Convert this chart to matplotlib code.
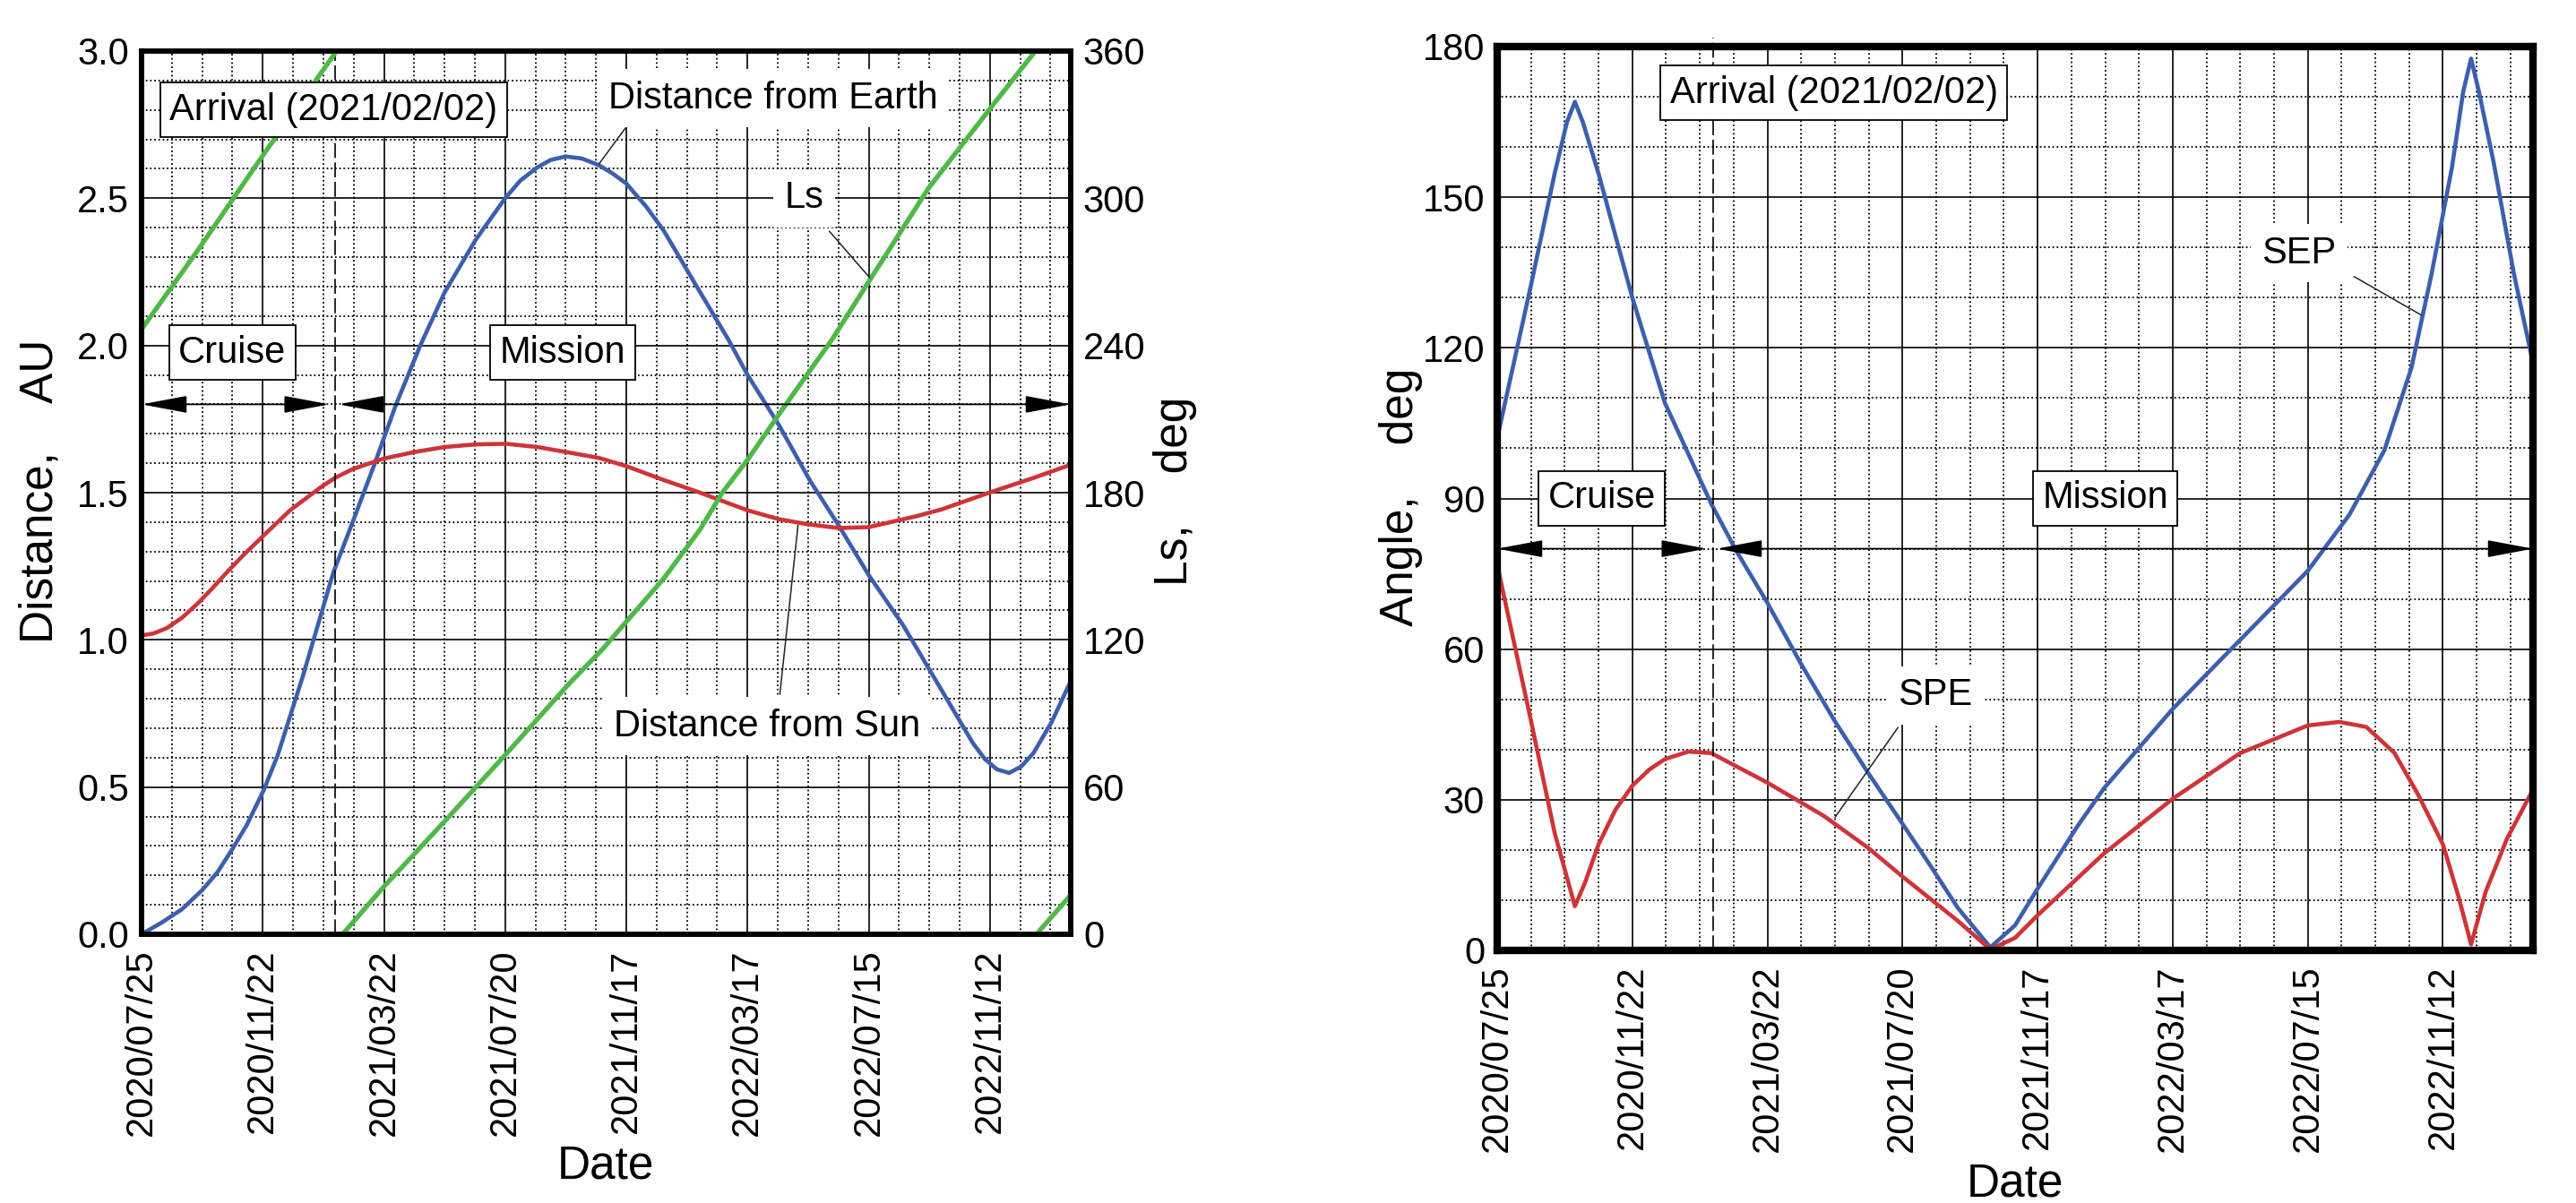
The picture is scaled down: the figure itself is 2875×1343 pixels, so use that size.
import matplotlib
matplotlib.use("Agg")
import matplotlib.pyplot as plt
from matplotlib.ticker import FixedLocator, MultipleLocator, FormatStrFormatter

plt.rcParams['font.family'] = ['Liberation Sans', 'DejaVu Sans']

# x is counted in days from 2020/07/25
date_ticks = [0, 120, 240, 360, 480, 600, 720, 840]
date_labels = ['2020/07/25', '2020/11/22', '2021/03/22', '2021/07/20',
               '2021/11/17', '2022/03/17', '2022/07/15', '2022/11/12']
end_day = 920
arrival_day = 192

# distance from Earth, AU
earth_day = [0, 20, 40, 60, 75, 90, 104, 121, 135, 147, 160, 172, 190, 209, 220, 231, 252,
             276, 300, 331, 360, 375, 392, 405, 420, 436, 453, 466, 480, 500, 517, 548,
             581, 600, 631, 662, 690, 720, 754, 792, 823, 835, 847, 859, 871, 883, 901, 920]
earth_au = [0.0, 0.04, 0.085, 0.15, 0.21, 0.29, 0.37, 0.49, 0.61, 0.74, 0.88, 1.02, 1.23,
            1.40, 1.50, 1.60, 1.80, 2.00, 2.18, 2.36, 2.50, 2.56, 2.605, 2.63, 2.642,
            2.635, 2.612, 2.585, 2.55, 2.47, 2.39, 2.21, 2.02, 1.90, 1.73, 1.54, 1.39,
            1.22, 1.05, 0.83, 0.65, 0.595, 0.56, 0.548, 0.57, 0.615, 0.72, 0.86]

# distance from Sun, AU
sun_day = [0, 12, 25, 40, 56, 70, 86, 100, 121, 147, 178, 192, 209, 239, 270, 300, 331,
           361, 392, 422, 453, 480, 517, 553, 600, 631, 659, 690, 720, 766, 792, 841,
           883, 920]
sun_au = [1.015, 1.022, 1.04, 1.075, 1.125, 1.175, 1.235, 1.285, 1.355, 1.44, 1.52, 1.551,
          1.58, 1.615, 1.638, 1.655, 1.664, 1.666, 1.655, 1.637, 1.618, 1.59, 1.543,
          1.50, 1.44, 1.41, 1.393, 1.38, 1.383, 1.419, 1.443, 1.502, 1.55, 1.595]

# solar longitude Ls, deg (wraps at 360)
ls_day_1 = [0, 56, 121, 193]
ls_deg_1 = [246.6, 279, 318, 360]
ls_day_2 = [199, 239, 300, 361, 423, 456, 517, 553, 575, 600, 638, 683, 720, 779, 841, 885]
ls_deg_2 = [0, 19, 46, 73.5, 102, 116, 145, 165, 180, 193.4, 216, 242, 266, 304, 337, 360]
ls_day_3 = [886, 920]
ls_deg_3 = [0, 16]

# Sun-Earth-Probe angle, deg
sep_day = [0, 30, 51, 62, 69, 76, 90, 120, 149, 190, 212, 240, 270, 300, 329, 360, 385,
           409, 438, 460, 480, 515, 539, 600, 651, 720, 757, 788, 812, 830, 848, 858, 865,
           872, 885, 903, 920]
sep_deg = [102, 132.5, 154.7, 165, 169, 165, 154.7, 130, 109, 89, 79.7, 69.2, 57, 45.6,
           35.5, 25.2, 16.8, 8.5, 0.6, 5, 12.3, 24.6, 32.3, 48.1, 59.8, 75.6, 86.8, 99.6,
           116, 134.8, 155.9, 171, 177.6, 171, 157, 134.8, 117]

# Sun-Probe-Earth angle, deg
spe_day = [0, 30, 51, 69, 78, 90, 105, 120, 135, 149, 170, 190, 240, 290, 329, 360, 409,
           438, 460, 480, 539, 600, 660, 720, 748, 772, 797, 818, 840, 854, 865, 878, 897,
           920]
spe_deg = [76.8, 45.7, 23.4, 8.8, 13.5, 21.1, 28, 32.8, 36, 38.1, 39.6, 39.3, 33.4, 26.8,
           20.5, 14.7, 5.9, 0.2, 2.5, 7.0, 19.3, 30.2, 39.3, 44.8, 45.5, 44.5, 39.3, 31,
           21.1, 10.6, 1.2, 11.7, 22.3, 32]

BLUE = '#3c5fae'
RED = '#cf3437'
GREEN = '#50b848'
W, H = 2875, 1343


def setup(ax, ymax, major, minor, frame_lw):
    ax.set_xlim(0, end_day)
    ax.set_ylim(0, ymax)
    ax.xaxis.set_major_locator(FixedLocator(date_ticks))
    ax.set_xticklabels(date_labels, rotation=90)
    ax.xaxis.set_minor_locator(MultipleLocator(30))
    ax.yaxis.set_major_locator(MultipleLocator(major))
    ax.yaxis.set_minor_locator(MultipleLocator(minor))
    ax.grid(which='major', color='black', lw=1.2)
    ax.grid(which='minor', color='black', lw=1.3, ls=(0, (1, 1.6)))
    ax.set_axisbelow(True)
    ax.tick_params(which='both', length=0, labelsize=30)
    ax.tick_params(axis='x', pad=12)
    ax.tick_params(axis='y', pad=10)
    for s in ax.spines.values():
        s.set_linewidth(frame_lw)


def boxed(ax, x, y, s, trans):
    ax.text(x, y, s, transform=trans, fontsize=30, ha='center', va='center', zorder=6,
            bbox=dict(boxstyle='square,pad=0.25', fc='white', ec='black', lw=1.3))


def label(ax, x, y, s, trans):
    ax.text(x, y, s, transform=trans, fontsize=30, ha='center', va='center', zorder=6,
            bbox=dict(boxstyle='square,pad=0.3', fc='white', ec='none'))


def leader(ax, start, end, trans):
    ax.annotate('', xy=end, xytext=start, xycoords=trans, textcoords=trans, zorder=6,
                arrowprops=dict(arrowstyle='-', color='#222222', lw=1.1,
                                shrinkA=0, shrinkB=0))


def phases(ax, y, trans):
    style = dict(arrowstyle='<|-|>,head_length=1.6,head_width=0.3', mutation_scale=20,
                 color='black', lw=1.3, shrinkA=0, shrinkB=0)
    ax.annotate('', xy=(arrival_day - 6, y), xytext=(0, y), xycoords=trans,
                textcoords=trans, arrowprops=style, zorder=5)
    ax.annotate('', xy=(end_day, y), xytext=(arrival_day + 3, y), xycoords=trans,
                textcoords=trans, arrowprops=style, zorder=5)


fig = plt.figure(figsize=(W / 100, H / 100), dpi=100)

# ---- left: distances and Ls ----
ax1 = fig.add_axes([158 / W, 1 - 1043 / H, (1195 - 158) / W, (1043 - 57) / H])
setup(ax1, 3.0, 0.5, 0.1, 4)
ax1.yaxis.set_major_formatter(FormatStrFormatter('%.1f'))
ax1.plot(earth_day, earth_au, color=BLUE, lw=3.3, solid_joinstyle='round')
ax1.plot(sun_day, sun_au, color=RED, lw=3.3, solid_joinstyle='round')
ax1.axvline(arrival_day, color='black', lw=1.2, ls=(0, (10, 3)))

ax_ls = ax1.twinx()
ax_ls.set_ylim(0, 360)
ax_ls.yaxis.set_major_locator(MultipleLocator(60))
ax_ls.tick_params(length=0, labelsize=30, pad=10)
for s in ax_ls.spines.values():
    s.set_linewidth(4)
for d, v in [(ls_day_1, ls_deg_1), (ls_day_2, ls_deg_2), (ls_day_3, ls_deg_3)]:
    ax_ls.plot(d, v, color=GREEN, lw=3.8, solid_joinstyle='round')

t1 = ax1.transData
phases(ax_ls, 1.8, t1)
boxed(ax_ls, 190, 2.80, 'Arrival (2021/02/02)', t1)
boxed(ax_ls, 90, 1.975, 'Cruise', t1)
boxed(ax_ls, 417, 1.975, 'Mission', t1)
label(ax_ls, 625, 2.84, 'Distance from Earth', t1)
leader(ax_ls, (479, 2.738), (453, 2.617), t1)
label(ax_ls, 656, 2.50, 'Ls', t1)
leader(ax_ls, (681, 2.388), (721, 2.23), t1)
label(ax_ls, 619, 0.706, 'Distance from Sun', t1)
leader(ax_ls, (632, 0.815), (650, 1.39), t1)

fig.text(45 / W, 1 - 548 / H, 'Distance,    AU', rotation=90, fontsize=37,
         ha='center', va='center')
fig.text(1312 / W, 1 - 548 / H, 'Ls,    deg', rotation=90, fontsize=37,
         ha='center', va='center')
fig.text(676 / W, 1 - 1302 / H, 'Date', fontsize=37, ha='center', va='center')

# ---- right: angles ----
ax2 = fig.add_axes([1671 / W, 1 - 1061 / H, (2827 - 1671) / W, (1061 - 52) / H])
setup(ax2, 180, 30, 10, 6)
ax2.plot(sep_day, sep_deg, color=BLUE, lw=3.3, solid_joinstyle='round')
ax2.plot(spe_day, spe_deg, color=RED, lw=3.3, solid_joinstyle='round')
ax2.axvline(arrival_day, ymax=1.01, color='black', lw=1.2, ls=(0, (10, 3)), clip_on=False)

t2 = ax2.transData
phases(ax2, 80, t2)
boxed(ax2, 299, 170.8, 'Arrival (2021/02/02)', t2)
boxed(ax2, 93, 90, 'Cruise', t2)
boxed(ax2, 540, 90, 'Mission', t2)
label(ax2, 712, 138.8, 'SEP', t2)
leader(ax2, (761, 134.2), (821, 126.5), t2)
label(ax2, 389, 50.8, 'SPE', t2)
leader(ax2, (356, 44.4), (300, 26.5), t2)

fig.text(1564 / W, 1 - 555 / H, 'Angle,    deg', rotation=90, fontsize=37,
         ha='center', va='center')
fig.text(2249 / W, 1 - 1322 / H, 'Date', fontsize=37, ha='center', va='center')

fig.savefig('out.png', dpi=100, facecolor='white')
